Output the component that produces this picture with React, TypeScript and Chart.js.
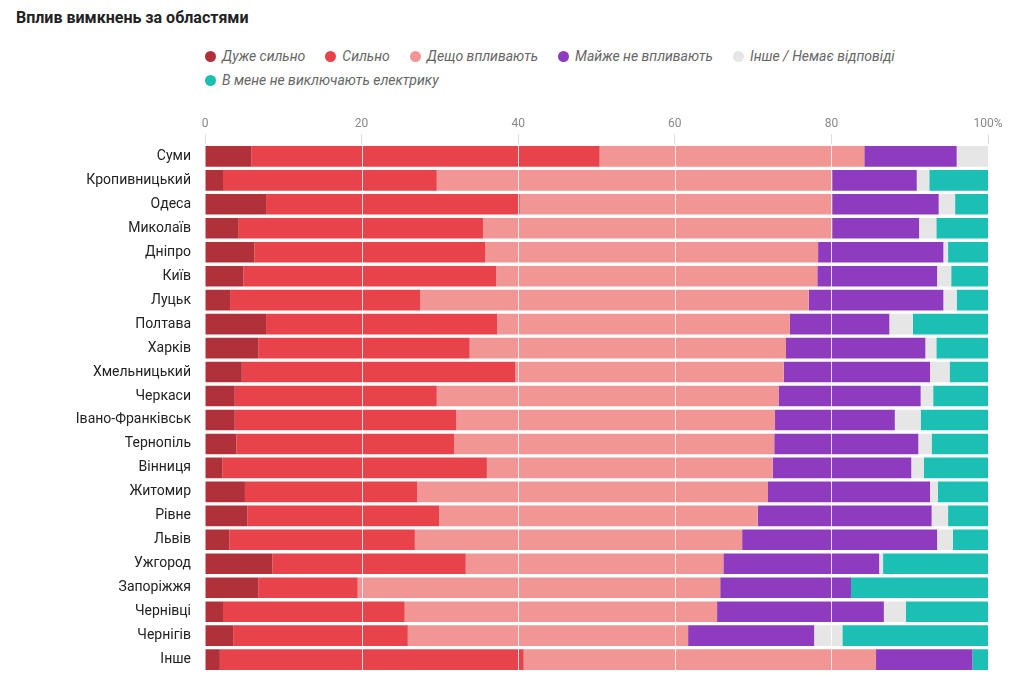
import React, { useEffect, useRef } from "react";
import { Chart, registerables } from "chart.js";
Chart.register(...registerables);

const regions = ["Суми","Кропивницький","Одеса","Миколаїв","Дніпро","Київ","Луцьк","Полтава","Харків","Хмельницький","Черкаси","Івано-Франківськ","Тернопіль","Вінниця","Житомир","Рівне","Львів","Ужгород","Запоріжжя","Чернівці","Чернігів","Інше"];
const veryStrong = [5.9,2.3,7.8,4.3,6.3,4.9,3.2,7.8,6.8,4.7,3.8,3.8,4.0,2.2,5.1,5.4,3.1,8.6,6.8,2.3,3.6,1.9];
const strong = [44.5,27.3,32.4,31.2,29.5,32.3,24.3,29.5,27.0,34.9,25.8,28.3,27.8,33.8,22.0,24.5,23.7,24.7,12.7,23.2,22.3,38.8];
const somewhat = [33.8,50.5,39.9,44.6,42.5,41.0,49.6,37.4,40.4,34.3,43.7,40.7,40.9,36.5,44.8,40.7,41.8,32.9,46.3,39.9,35.8,45.0];
const barely = [11.8,10.8,13.6,11.1,16.0,15.3,17.2,12.7,17.8,18.7,18.1,15.3,18.4,17.7,20.7,22.2,24.9,19.9,16.7,21.3,16.1,12.3];
const other = [4.0,1.6,2.1,2.2,0.6,1.8,1.7,3.0,1.4,2.5,1.6,3.3,1.7,1.6,1.0,2.1,2.0,0.5,0,2.8,3.6,0];
const noOutage = [0,7.5,4.2,6.6,5.1,4.7,4.0,9.6,6.6,4.9,7.0,8.6,7.2,8.2,6.4,5.1,4.5,13.4,17.5,10.5,18.6,2.0];
const seriesNames = ["Дуже сильно","Сильно","Дещо впливають","Майже не впливають","Інше / Немає відповіді","В мене не виключають електрику"];
const colors = ["#b0313a","#e8434b","#f29595","#8e3bbf","#e6e6e6","#1bbfb4"];
const ticks = [0,20,40,60,80,100];

const font = "Roboto, 'Noto Sans', sans-serif";

export default function App() {
  const ref = useRef<HTMLCanvasElement>(null);
  useEffect(() => {
    const data = [veryStrong, strong, somewhat, barely, other, noOutage];
    const grid = {
      id: "grid",
      afterDatasetsDraw(c: any) {
        const { ctx, chartArea } = c;
        const x = c.scales.x;
        ctx.save();
        ctx.strokeStyle = "rgba(255,255,255,0.8)";
        ctx.lineWidth = 1;
        for (const t of [20, 40, 60, 80]) {
          const px = Math.round(x.getPixelForValue(t)) + 0.5;
          ctx.beginPath(); ctx.moveTo(px, chartArea.top); ctx.lineTo(px, chartArea.bottom); ctx.stroke();
        }
        ctx.restore();
      },
    };
    const chart = new Chart(ref.current!, {
      type: "bar",
      data: {
        labels: regions,
        datasets: data.map((d, i) => ({
          label: seriesNames[i], data: d, backgroundColor: colors[i],
          borderWidth: 0, categoryPercentage: 1, barPercentage: 0.86,
        })),
      },
      plugins: [grid],
      options: {
        animation: false, responsive: false, indexAxis: "y",
        layout: { padding: { right: 18, top: 0, bottom: 2 } },
        plugins: { legend: { display: false }, tooltip: { enabled: false } },
        scales: {
          x: {
            stacked: true, position: "top", min: 0, max: 100,
            afterBuildTicks: (s: any) => { s.ticks = ticks.map(v => ({ value: v })); },
            ticks: { color: "#888", font: { family: font, size: 12 }, callback: (v: any) => v === 100 ? "100%" : String(v) },
            grid: { display: true, color: "#ddd", drawOnChartArea: false, tickLength: 10 },
            border: { display: false },
          },
          y: {
            stacked: true,
            afterFit: (s: any) => { s.width = 197; },
            ticks: { color: "#222", font: { family: font, size: 14 }, padding: 6 },
            grid: { display: false }, border: { display: false },
          },
        },
      },
    });
    return () => chart.destroy();
  }, []);
  return (
    <div style={{ position: "relative", width: 1008, height: 682, fontFamily: font }}>
      <div style={{ position: "absolute", left: 8, top: 0, fontWeight: 700, fontSize: 16, color: "#222" }}>Вплив вимкнень за областями</div>
      <div style={{ position: "absolute", left: 197, top: 40, width: 790, display: "flex", flexWrap: "wrap", rowGap: 8, columnGap: 20 }}>
        {seriesNames.map((n, i) => (
          <div key={n} style={{ display: "flex", alignItems: "center", fontStyle: "italic", fontSize: 14, color: "#666" }}>
            <span style={{ width: 11, height: 11, borderRadius: 6, background: colors[i], marginRight: 6, display: "inline-block" }} />{n}
          </div>
        ))}
      </div>
      <canvas ref={ref} width={998} height={572} style={{ position: "absolute", left: 0, top: 106 }} />
    </div>
  );
}
